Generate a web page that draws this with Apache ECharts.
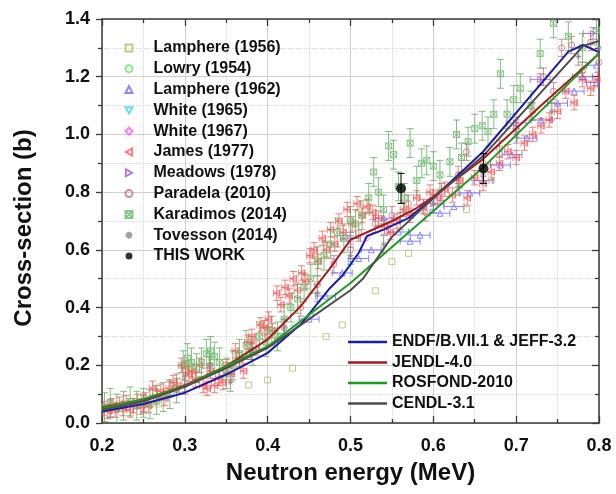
<!DOCTYPE html>
<html><head><meta charset="utf-8">
<script src="https://cdn.jsdelivr.net/npm/echarts@6/dist/echarts.min.js"></script>
<style>html,body{margin:0;padding:0;background:#fff}#c{width:616px;height:494px}</style>
</head><body><div id="c"></div>
<script>
// ---- evaluated data (lines) ----
const endfE   = [0.2,0.25,0.3,0.35,0.4,0.44,0.475,0.49,0.51,0.52,0.54,0.57,0.6,0.66,0.763,0.781,0.8];
const endfXS  = [0.04,0.066,0.105,0.168,0.243,0.342,0.467,0.51,0.59,0.648,0.67,0.71,0.78,0.94,1.287,1.31,1.285];
const jendlE  = [0.2,0.25,0.3,0.35,0.4,0.44,0.475,0.5,0.55,0.58,0.6,0.66,0.73,0.8];
const jendlXS = [0.055,0.08,0.13,0.197,0.29,0.405,0.535,0.635,0.7,0.745,0.785,0.915,1.1,1.28];
const rosE    = [0.2,0.25,0.3,0.35,0.4,0.45,0.5,0.6,0.66,0.8];
const rosXS   = [0.05,0.083,0.127,0.198,0.265,0.375,0.485,0.735,0.885,1.28];
const cendlE  = [0.2,0.25,0.3,0.35,0.4,0.45,0.5,0.515,0.55,0.6,0.66,0.781,0.8];
const cendlXS = [0.045,0.075,0.125,0.19,0.26,0.36,0.46,0.5,0.645,0.78,0.925,1.307,1.324];

// ---- experimental data ----
const lamph56E  = [0.268,0.377,0.4,0.43,0.4705,0.49,0.53,0.55,0.57,0.64,0.67];
const lamph56XS = [0.066,0.132,0.149,0.19,0.299,0.34,0.458,0.559,0.588,0.74,0.842];
const lowryE  = [0.305,0.332,0.372,0.41];
const lowryXS = [0.2,0.22,0.24,0.31];
const lamph62E  = [0.45,0.47,0.49,0.51,0.525,0.54,0.558,0.572,0.584,0.608,0.625,0.644,0.66,0.681,0.695,0.713,0.73,0.75,0.77,0.78,0.797,0.797];
const lamph62XS = [0.36,0.44,0.52,0.57,0.6,0.71,0.662,0.63,0.651,0.727,0.75,0.797,0.84,0.894,0.93,0.987,1.05,1.108,1.15,1.2,1.24,1.18];
const white65E  = [0.432,0.452,0.5];
const white65XS = [0.33,0.37,0.55];
const white67E  = [0.48,0.52,0.61];
const white67XS = [0.56,0.64,0.77];
const jamesE  = [0.202,0.207,0.212,0.216,0.221,0.225,0.229,0.234,0.238,0.243,0.247,0.252,0.256,0.261,0.266,0.271,0.276,0.281,0.286,0.291,0.296,0.301,0.305,0.309,0.313,0.318,0.322,0.327,0.331,0.336,0.341,0.346,0.351,0.356,0.361,0.366,0.371,0.376,0.381,0.386,0.391,0.396,0.401,0.406,0.411,0.416,0.421,0.426,0.431,0.436,0.441,0.446,0.451,0.456,0.461,0.466,0.471,0.476,0.481,0.486,0.491,0.496,0.502,0.508,0.514,0.52,0.527,0.534,0.541,0.548,0.556,0.564,0.572,0.58,0.588,0.596,0.605,0.614,0.623,0.632,0.641,0.65,0.66,0.67,0.68,0.69,0.7,0.71,0.72,0.73,0.74,0.75,0.76,0.77,0.78,0.79,0.798];
const jamesXS = [0.05,0.04,0.06,0.045,0.065,0.05,0.07,0.045,0.06,0.075,0.055,0.08,0.06,0.12,0.09,0.11,0.085,0.12,0.14,0.13,0.2,0.19,0.17,0.18,0.15,0.2,0.13,0.12,0.18,0.13,0.155,0.14,0.2,0.17,0.25,0.22,0.18,0.28,0.3,0.26,0.34,0.33,0.36,0.32,0.45,0.41,0.47,0.44,0.5,0.46,0.52,0.49,0.58,0.6,0.56,0.64,0.6,0.67,0.62,0.7,0.66,0.74,0.69,0.76,0.72,0.75,0.73,0.71,0.68,0.66,0.7,0.74,0.72,0.78,0.75,0.8,0.78,0.81,0.79,0.84,0.78,0.85,0.83,0.87,0.9,0.94,0.92,0.97,1.0,1.03,1.05,1.08,1.15,1.11,1.19,1.16,1.19];
const meadE  = [0.5,0.6,0.7,0.729,0.793];
const meadXS = [0.64,0.76,1.04,1.19,1.35];
const paradE  = [0.25,0.3,0.33,0.35,0.38,0.4,0.42,0.44,0.46,0.48,0.5,0.51,0.53,0.55,0.57,0.59,0.61,0.63,0.64,0.66,0.68,0.7,0.72,0.733,0.745,0.755,0.767,0.78,0.79,0.8];
const paradXS = [0.07,0.14,0.2,0.18,0.25,0.3,0.33,0.4,0.48,0.55,0.6,0.66,0.69,0.72,0.76,0.73,0.8,0.86,0.94,0.9,0.95,1.02,1.08,1.2,1.15,1.3,1.31,1.22,1.32,1.25];
const karaE  = [0.203,0.21,0.218,0.226,0.234,0.242,0.25,0.258,0.266,0.274,0.282,0.29,0.298,0.303,0.308,0.314,0.32,0.326,0.331,0.336,0.342,0.35,0.358,0.366,0.374,0.382,0.39,0.398,0.405,0.412,0.42,0.428,0.436,0.444,0.452,0.46,0.468,0.476,0.484,0.492,0.5,0.506,0.514,0.522,0.528,0.534,0.54,0.546,0.552,0.558,0.565,0.572,0.58,0.586,0.592,0.6,0.608,0.62,0.628,0.634,0.642,0.65,0.659,0.666,0.673,0.681,0.689,0.697,0.705,0.718,0.729,0.745,0.763,0.78,0.797];
const karaXS = [0.055,0.07,0.05,0.06,0.075,0.06,0.07,0.065,0.08,0.09,0.1,0.12,0.2,0.225,0.21,0.19,0.21,0.24,0.25,0.23,0.21,0.17,0.2,0.24,0.27,0.25,0.3,0.28,0.32,0.3,0.36,0.4,0.43,0.47,0.5,0.56,0.58,0.62,0.66,0.64,0.7,0.69,0.72,0.78,0.87,0.8,0.74,0.96,0.93,0.82,0.78,0.97,0.84,0.9,0.91,0.89,0.86,0.905,1.0,0.92,0.975,1.02,1.03,1.01,1.07,1.21,1.07,1.12,1.16,1.1,1.28,1.385,1.34,1.3,1.36];
const tovE  = [0.21,0.25,0.3,0.33,0.355,0.38,0.42,0.46,0.5,0.54,0.56,0.6,0.63,0.66,0.7,0.743,0.775,0.8];
const tovXS = [0.05,0.065,0.13,0.2,0.14,0.25,0.33,0.45,0.58,0.62,0.7,0.76,0.82,0.86,1.0,1.08,1.27,1.3];
const thisE   = [0.561,0.6605];
const thisXS  = [0.813,0.882];
const thisErr = [0.052,0.052];

// uncertainties (approximate, per data set): [dE, dXS]
const errLamph62 = [0.012,0];
const errJames   = [0.004,0.025];
const errMead    = [0.012,0.02];
const errParad   = [0.0,0.03];
const errKara    = [0.0,0.05];
const errTov     = [0.0,0.03];

function zip(a,b){return a.map((v,i)=>[v,b[i]]);}

function errSeries(id, xs, ys, ex, ey, color){
  return {
    type:'custom', name:id, clip:true, silent:true, z:2,
    encode:{x:0,y:1},
    data: xs.map((x,i)=>[x, ys[i], Array.isArray(ex)?ex[i]:ex, Array.isArray(ey)?ey[i]:ey]),
    renderItem:function(params, api){
      const x=api.value(0), y=api.value(1), dx=api.value(2), dy=api.value(3);
      const ch=[]; const cap=3.5;
      const st={stroke:color, lineWidth:1};
      if(dy>0){
        const t=api.coord([x,y+dy]), b=api.coord([x,y-dy]);
        ch.push({type:'line',shape:{x1:t[0],y1:t[1],x2:b[0],y2:b[1]},style:st});
        ch.push({type:'line',shape:{x1:t[0]-cap,y1:t[1],x2:t[0]+cap,y2:t[1]},style:st});
        ch.push({type:'line',shape:{x1:b[0]-cap,y1:b[1],x2:b[0]+cap,y2:b[1]},style:st});
      }
      if(dx>0){
        const l=api.coord([x-dx,y]), r=api.coord([x+dx,y]);
        ch.push({type:'line',shape:{x1:l[0],y1:l[1],x2:r[0],y2:r[1]},style:st});
        ch.push({type:'line',shape:{x1:l[0],y1:l[1]-cap,x2:l[0],y2:l[1]+cap},style:st});
        ch.push({type:'line',shape:{x1:r[0],y1:r[1]-cap,x2:r[0],y2:r[1]+cap},style:st});
      }
      return {type:'group',children:ch};
    }
  };
}

function sc(name, xs, ys, symbol, color, size){
  return {type:'scatter', name:name, data:zip(xs,ys), symbol:symbol, symbolSize:size||6,
    symbolKeepAspect:true, z:3,
    itemStyle:{color:'rgba(0,0,0,0)', borderColor:color, borderWidth:1}};
}
function ln(name, xs, ys, color){
  return {type:'line', name:name, data:zip(xs,ys), symbol:'none', z:5,
    lineStyle:{color:color, width:2}, itemStyle:{color:color}};
}

const cLamph56='#b9b96e', cLowry='#66ee66', cLamph62='#6a6aff', cW65='#33ddee', cW67='#ff55ff',
      cJames='#ff5a5a', cMead='#a060d0', cParad='#c77070', cKara='#6cb86c', cTov='#8a8a8a';

const star='path://M5,0L5,10M0,5L10,5M1.5,1.5L8.5,8.5M8.5,1.5L1.5,8.5';
const boxX='path://M0,0L10,0L10,10L0,10ZM0,0L10,10M10,0L0,10';
const triDown='path://M0,0L10,0L5,9Z';
const triLeft='path://M0,5L9,0L9,10Z';
const triRight='path://M9,5L0,0L0,10Z';

const series=[
  errSeries('e62', lamph62E, lamph62XS, errLamph62[0], errLamph62[1], 'rgba(90,90,255,0.75)'),
  errSeries('eJ', jamesE, jamesXS, errJames[0], errJames[1], 'rgba(255,70,70,0.7)'),
  errSeries('eM', meadE, meadXS, errMead[0], errMead[1], 'rgba(150,80,200,0.7)'),
  errSeries('eP', paradE, paradXS, errParad[0], errParad[1], 'rgba(190,100,100,0.7)'),
  errSeries('eK', karaE, karaXS, errKara[0], errKara[1], 'rgba(90,170,90,0.75)'),
  errSeries('eT', tovE, tovXS, errTov[0], errTov[1], 'rgba(120,120,120,0.7)'),
  sc('Lamphere (1956)', lamph56E, lamph56XS, 'rect', cLamph56),
  sc('Lowry (1954)', lowryE, lowryXS, 'circle', cLowry),
  sc('Lamphere (1962)', lamph62E, lamph62XS, 'triangle', cLamph62),
  sc('White (1965)', white65E, white65XS, triDown, cW65),
  sc('White (1967)', white67E, white67XS, 'diamond', cW67),
  sc('James (1977)', jamesE, jamesXS, triLeft, cJames),
  sc('Meadows (1978)', meadE, meadXS, triRight, cMead),
  sc('Paradela (2010)', paradE, paradXS, 'circle', cParad),
  sc('Karadimos (2014)', karaE, karaXS, boxX, cKara),
  sc('Tovesson (2014)', tovE, tovXS, star, cTov),
  ln('ENDF/B.VII.1 & JEFF-3.2', endfE, endfXS, '#1c1ca8'),
  ln('JENDL-4.0', jendlE, jendlXS, '#a51c1c'),
  ln('ROSFOND-2010', rosE, rosXS, '#1c9c1c'),
  ln('CENDL-3.1', cendlE, cendlXS, '#4d4d4d'),
  errSeries('eW', thisE, thisXS, 0, thisErr, '#000'),
  {type:'scatter', name:'THIS WORK', data:zip(thisE,thisXS), symbol:'circle', symbolSize:10, z:7,
   itemStyle:{color:'#000'}}
];
series[series.length-2].z=7;

const axisCommon={type:'value', axisLine:{show:true,onZero:false,lineStyle:{color:'#3a3a3a',width:1.5}}};
const labelStyle={fontFamily:'Liberation Sans, Arial, sans-serif', fontWeight:'bold', fontSize:18, color:'#111'};
const legendFont={fontFamily:'Liberation Sans, Arial, sans-serif',fontWeight:'bold',fontSize:16,color:'#111'};

const option={
  animation:false,
  backgroundColor:'#fff',
  grid:{left:102,right:17,top:19,bottom:71},
  xAxis:[
    Object.assign({},axisCommon,{min:0.2,max:0.8,interval:0.1,position:'bottom',
      name:'Neutron energy (MeV)', nameLocation:'middle', nameGap:38,
      nameTextStyle:{fontFamily:'Liberation Sans, Arial, sans-serif',fontWeight:'bold',fontSize:24,color:'#111'},
      axisTick:{show:true,inside:true,length:7,lineStyle:{color:'#3a3a3a',width:1.3}},
      minorTick:{show:true,splitNumber:2,length:4,lineStyle:{color:'#3a3a3a',width:1.3}},
      splitLine:{show:true,lineStyle:{color:'#cfcfcf',width:1}},
      minorSplitLine:{show:true,lineStyle:{color:'#d8d8d8',width:1,type:'dotted'}},
      axisLabel:Object.assign({margin:14,formatter:v=>v.toFixed(1)},labelStyle)}),
    Object.assign({},axisCommon,{min:0.2,max:0.8,interval:0.1,position:'top',
      axisTick:{show:true,inside:true,length:7,lineStyle:{color:'#3a3a3a',width:1.3}},
      minorTick:{show:true,splitNumber:2,length:4,lineStyle:{color:'#3a3a3a',width:1.3}},
      splitLine:{show:false},axisLabel:{show:false}})
  ],
  yAxis:[
    Object.assign({},axisCommon,{min:0,max:1.4,interval:0.2,position:'left',
      name:'Cross-section (b)', nameLocation:'middle', nameGap:66,
      nameTextStyle:{fontFamily:'Liberation Sans, Arial, sans-serif',fontWeight:'bold',fontSize:24,color:'#111',padding:[0,14,0,0]},
      axisTick:{show:true,inside:false,length:6,lineStyle:{color:'#3a3a3a',width:1.3}},
      minorTick:{show:true,splitNumber:2,length:4,lineStyle:{color:'#3a3a3a',width:1.3}},
      splitLine:{show:true,lineStyle:{color:'#cfcfcf',width:1}},
      minorSplitLine:{show:true,lineStyle:{color:'#d8d8d8',width:1,type:'dotted'}},
      axisLabel:Object.assign({margin:12,formatter:v=>v.toFixed(1)},labelStyle)}),
    Object.assign({},axisCommon,{min:0,max:1.4,interval:0.2,position:'right',
      axisTick:{show:true,inside:true,length:7,lineStyle:{color:'#3a3a3a',width:1.3}},
      minorTick:{show:true,splitNumber:2,length:4,lineStyle:{color:'#3a3a3a',width:1.3}},
      splitLine:{show:false},axisLabel:{show:false}})
  ],
  legend:[
    {orient:'vertical', left:124.5, top:40, padding:0, itemWidth:7, itemHeight:7, itemGap:4.8,
     textStyle:Object.assign({padding:[0,0,0,16]},legendFont),
     data:[
       {name:'Lamphere (1956)', icon:'rect'},
       {name:'Lowry (1954)', icon:'circle'},
       {name:'Lamphere (1962)', icon:'triangle'},
       {name:'White (1965)', icon:triDown},
       {name:'White (1967)', icon:'diamond'},
       {name:'James (1977)', icon:triLeft},
       {name:'Meadows (1978)', icon:triRight},
       {name:'Paradela (2010)', icon:'circle'},
       {name:'Karadimos (2014)', icon:boxX},
       {name:'Tovesson (2014)', icon:star},
       {name:'THIS WORK', icon:'circle'}
     ]},
    {orient:'vertical', left:348, top:334, padding:0, itemWidth:39, itemHeight:2.5, itemGap:4.5,
     icon:'rect', textStyle:legendFont,
     data:['ENDF/B.VII.1 & JEFF-3.2','JENDL-4.0','ROSFOND-2010','CENDL-3.1']}
  ],
  series:series
};
const chart=echarts.init(document.getElementById('c'),null,{renderer:'canvas'});
chart.setOption(option);
</script></body></html>
